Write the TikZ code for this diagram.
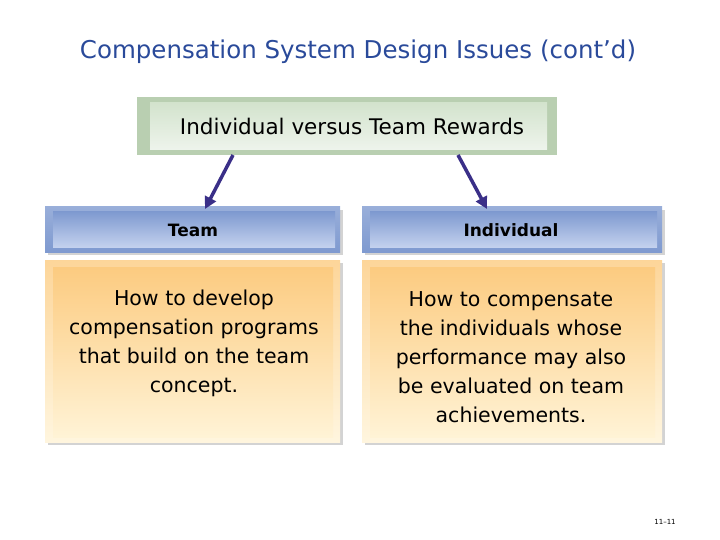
\documentclass[tikz,border=0pt]{standalone}
\usepackage{fontspec}
\setmainfont{DejaVu Sans}
\usetikzlibrary{shadows,arrows.meta}
\definecolor{titleblue}{HTML}{2A4A9A}
\definecolor{arrowc}{HTML}{3A2F88}
\definecolor{gout}{HTML}{B9CFB1}
\definecolor{gin1}{HTML}{D3E3CD}
\definecolor{gin2}{HTML}{EEF4EC}
\definecolor{hb1}{HTML}{7F9AD0}
\definecolor{hb2}{HTML}{C3D1EE}
\definecolor{ho1}{HTML}{FCCB80}
\definecolor{ho2}{HTML}{FFF3D6}
\tikzset{
 outerg/.style={fill=gout, draw=none},
 innerg/.style={top color=gin1, bottom color=gin2, draw=none},
 hdr/.style={top color=hb1!80, bottom color=hb1, draw=none, drop shadow={opacity=0.35,shadow xshift=3pt,shadow yshift=-3pt}},
 hdrin/.style={top color=hb1, bottom color=hb2, draw=none},
 bodyo/.style={top color=ho1!80, bottom color=ho2!80, draw=none, drop shadow={opacity=0.35,shadow xshift=3pt,shadow yshift=-3pt}},
 bodyi/.style={top color=ho1, bottom color=ho2, draw=none},
 txt/.style={font=\fontsize{20.5}{29}\selectfont, align=center, text=black},
 hd/.style={font=\fontsize{17}{20}\selectfont\bfseries},
 arr/.style={line width=3.5pt, draw=arrowc, -{Triangle[length=12pt,width=12pt]}}
}
\begin{document}
\begin{tikzpicture}[x=1pt,y=-1pt]
\useasboundingbox (0,0) rectangle (720,540);
\node[text=titleblue, font=\fontsize{24.5}{28}\selectfont] (title) at (358,52) {Compensation System Design Issues (cont’d)};
% top box
\fill[outerg] (137,97) rectangle (557,155);
\fill[innerg] (150,103) rectangle (547,150);
\node[font=\fontsize{21.5}{24}\selectfont] (top) at (352,126) {Individual versus Team Rewards};
\coordinate (tl) at (233,155);
\coordinate (tr) at (458,155);
\coordinate (el) at (205,209);
\coordinate (er) at (487,209);
% headers
\fill[hdr] (45,207) rectangle (340,252);
\fill[hdrin] (53,212) rectangle (335,247);
\node[hd] (team) at (193,230) {Team};
\fill[hdr] (362,207) rectangle (662,252);
\fill[hdrin] (370,212) rectangle (657,247);
\node[hd] (indiv) at (511,230) {Individual};
% bodies
\fill[bodyo] (45,260) rectangle (340,442);
\fill[bodyi] (53,267) rectangle (333,437);
\node[txt] (b1) at (194,343) {How to develop\\compensation programs\\that build on the team\\concept.};
\fill[bodyo] (362,260) rectangle (662,442);
\fill[bodyi] (370,267) rectangle (655,437);
\node[txt] (b2) at (511,357) {How to compensate\\the individuals whose\\performance may also\\be evaluated on team\\achievements.};
% arrows
\draw[arr] (tl) -- (el);
\draw[arr] (tr) -- (er);
\node[font=\fontsize{7}{8}\selectfont] (pg) at (665,522) {11–11};
\end{tikzpicture}
\end{document}
